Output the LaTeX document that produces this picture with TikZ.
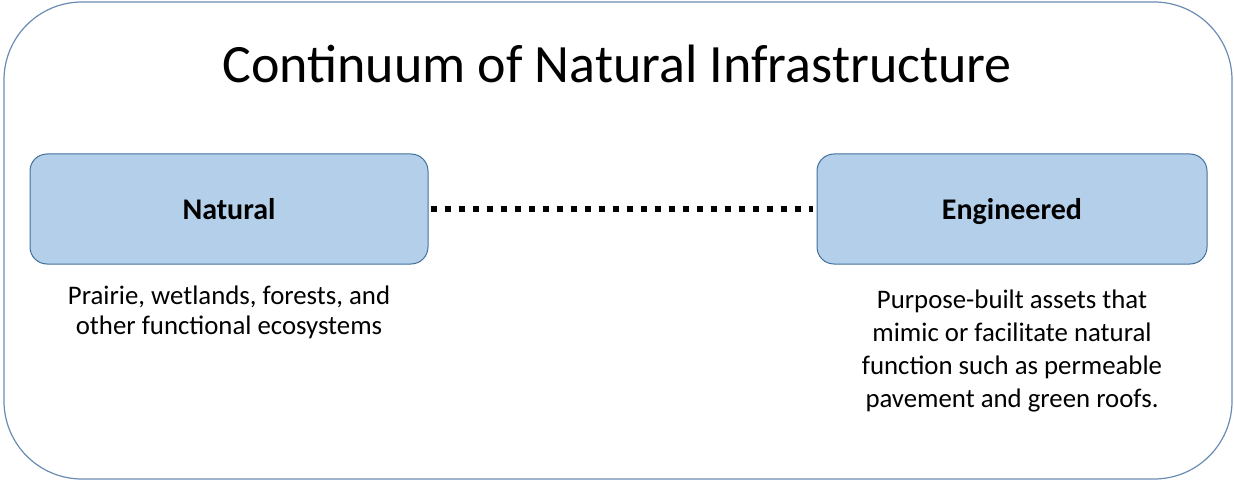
\documentclass[tikz,border=0pt]{standalone}
\usepackage{fontspec}
\setmainfont{Carlito}
\definecolor{boxfill}{HTML}{B4CFEA}
\definecolor{boxline}{HTML}{41719C}
\definecolor{outerline}{HTML}{6A8CB3}
\begin{document}
\begin{tikzpicture}[x=1pt,y=-1pt,
  catbox/.style={draw=boxline, line width=1pt, fill=boxfill, rounded corners=17pt,
    minimum width=398pt, minimum height=110pt, text height=24pt, text depth=2pt,
    font=\fontsize{30}{34}\selectfont\bfseries},
  desc/.style={align=center, font=\fontsize{26.8}{30}\selectfont}
]
\useasboundingbox (0,0) rectangle (1234,481);
\draw[outerline, line width=1.2pt, rounded corners=78pt] (4,2) rectangle (1232,479);
\node[font=\fontsize{54}{60}\selectfont] (title) at (617,64) {Continuum of Natural Infrastructure};
\node[catbox] (nat) at (229,209) {Natural};
\node[catbox, minimum width=390pt] (eng) at (1012,209) {Engineered};
\draw[line width=6pt, dash pattern=on 6pt off 8pt] ([xshift=2pt]nat.east) -- ([xshift=-4pt]eng.west);
\node[desc, anchor=north] (natd) at (229,282) {Prairie, wetlands, forests, and\\other functional ecosystems};
\node[desc, anchor=north, font=\fontsize{26.8}{33}\selectfont] (engd) at (1012,286) {Purpose-built assets that\\mimic or facilitate natural\\function such as permeable\\pavement and green roofs.};
\end{tikzpicture}
\end{document}
